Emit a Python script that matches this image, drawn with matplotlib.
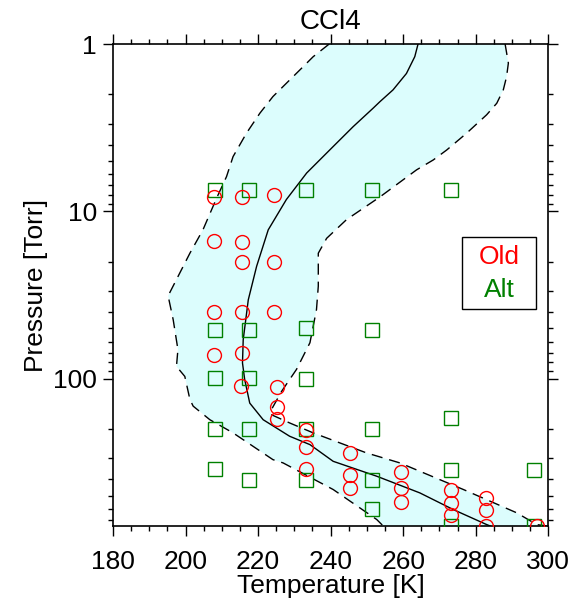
import numpy as np
import matplotlib
matplotlib.use("Agg")
import matplotlib.pyplot as plt
from matplotlib.patches import Rectangle
from matplotlib.ticker import FixedLocator, NullFormatter

plt.rcParams['font.family'] = ['Liberation Sans', 'DejaVu Sans']

#--------------------------------------------------Data------------------------------------------------#

# "Old" measurements (red circles): temperature [K], pressure [Torr]
Old_T = [207.9, 207.9, 207.9, 207.9,
         215.7, 215.7, 215.7, 215.7, 215.7, 215.2,
         224.5, 224.5, 224.5,
         225.3, 225.3, 225.3,
         233.1, 233.1, 233.1,
         245.3, 245.3, 245.3,
         259.4, 259.4, 259.4,
         273.3, 273.3, 273.3,
         282.8, 282.8, 282.8,
         296.8]
Old_P = [8.2, 15.1, 40, 72,
         8.2, 15.3, 20.2, 40, 70, 110,
         8.0, 20.2, 40,
         112, 147, 174,
         202, 258, 346,
         278, 379, 448,
         359, 450, 550,
         466, 553, 655,
         519, 606, 760,
         760]

# "Alt" measurements (green squares)
Alt_T = [208.0, 208.0, 208.0, 208.0, 208.0,
         217.4, 217.4, 217.4, 217.4, 217.4,
         233.2, 233.2, 233.2, 233.2, 233.2,
         251.4, 251.4, 251.4, 251.4, 251.4,
         273.2, 273.2, 273.2, 273.2,
         296.2, 296.2]
Alt_P = [7.5, 51, 99, 200, 346,
         7.5, 51, 99, 200, 401,
         7.5, 50, 100, 200, 401,
         7.5, 51, 200, 401, 600,
         7.5, 173, 351, 760,
         351, 760]

# Mean curve (solid)
Mean_T = [264.1, 263.2, 260.9, 257.2, 253.6, 251.7, 246.2, 240.7, 233.4, 227.8,
          222.8, 219.6, 217.3, 215.9, 215.7, 216.3, 217.7, 221.4, 228.7, 234.3,
          240.7, 252.7, 264.6, 273.8, 283.0, 284.0]
Mean_P = [1.0, 1.19, 1.50, 1.88, 2.21, 2.42, 3.12, 4.1, 5.9, 8.5,
          12.9, 21.3, 33.8, 58.5, 80.6, 101, 140, 176, 221, 248,
          312, 383, 482, 606, 745, 760]

# Cold bound (left dashed)
Low_T = [239.6, 235.2, 231.5, 224.1, 220.5, 216.8, 213.1, 211.3, 208.5, 204.8,
         201.2, 195.2, 196.6, 197.9, 197.5, 199.8, 201.2, 202.1, 206.7, 213.1,
         224.1, 226.9, 240.7, 252.7, 254.5]
Low_P = [1.0, 1.19, 1.43, 2.06, 2.59, 3.41, 4.71, 6.2, 8.4, 12.9,
         17.8, 32, 44.5, 67, 84.5, 97, 133, 146, 176, 211,
         305, 319, 460, 695, 760]

# Warm bound (right dashed)
High_T = [288.1, 289.0, 288.5, 287.6, 285.8, 283.0, 277.5, 272.0, 268.3, 263.7,
          253.6, 244.4, 238.9, 236.6, 236.6, 236.1, 234.3, 230.6, 226.5, 223.4,
          223.6, 228.7, 235.2, 249.9, 259.1, 276.6, 291.3, 296.8, 299.6]
High_P = [1.0, 1.30, 1.57, 1.88, 2.26, 2.65, 3.41, 4.3, 4.93, 5.65,
          8.2, 11.2, 14.5, 17.8, 28, 38.7, 61, 88, 119, 157,
          164, 184, 211, 278, 319, 460, 634, 745, 760]

#--------------------------------------------------Plot------------------------------------------------#

fig = plt.figure(figsize=(5.8, 6.03), dpi=100)
ax = fig.add_axes([0.1948, 0.1277, 0.7505, 0.7993])

# shaded band between the bounds
band_T = Low_T + High_T[::-1]
band_P = Low_P + High_P[::-1]
ax.fill(band_T, band_P, color='#dcfdfd', lw=0, zorder=1)

ax.plot(Low_T, Low_P, color='black', lw=1.0, ls=(0, (8, 5)), zorder=2)
ax.plot(High_T, High_P, color='black', lw=1.0, ls=(0, (8, 5)), zorder=2)
ax.plot(Mean_T, Mean_P, color='black', lw=1.0, zorder=2)

ax.plot(Alt_T, Alt_P, 's', mfc='none', mec='#008000', ms=10, mew=1.0, ls='none', zorder=3)
ax.plot(Old_T, Old_P, 'o', mfc='none', mec='#ff0000', ms=10, mew=1.0, ls='none', zorder=4)

ax.set_yscale('log')
ax.set_xlim(180, 300)
ax.set_ylim(760, 1)

ax.xaxis.set_major_locator(FixedLocator([180, 200, 220, 240, 260, 280, 300]))
ax.xaxis.set_minor_locator(FixedLocator(np.arange(180, 301, 5)))
ax.yaxis.set_major_locator(FixedLocator([1, 10, 100]))
ax.yaxis.set_minor_locator(FixedLocator([2, 3, 4, 5, 6, 7, 8, 9,
                                         20, 30, 40, 50, 60, 70, 80, 90,
                                         200, 300, 400, 500, 600, 700]))
ax.yaxis.set_minor_formatter(NullFormatter())
ax.set_yticklabels(['1', '10', '100'])

ax.tick_params(which='both', direction='out', top=True, right=True, width=1.0, labelsize=19)
ax.tick_params(which='major', length=7.5)
ax.tick_params(which='minor', length=3.8)
ax.tick_params(axis='x', which='major', pad=10)
ax.tick_params(axis='y', which='major', pad=4)
for s in ax.spines.values():
    s.set_linewidth(1.2)

ax.set_title('CCl4', fontsize=20, pad=11)
ax.set_xlabel('Temperature [K]', fontsize=19, labelpad=0)
ax.set_ylabel('Pressure [Torr]', fontsize=19, labelpad=4)

# legend box
ax.add_patch(Rectangle((0.802, 0.450), 0.170, 0.150, transform=ax.transAxes,
                       facecolor='white', edgecolor='black', lw=1.0, zorder=5))
ax.text(0.887, 0.558, 'Old', color='#ff0000', fontsize=19, ha='center', va='center',
        transform=ax.transAxes, zorder=6)
ax.text(0.887, 0.490, 'Alt', color='#008000', fontsize=19, ha='center', va='center',
        transform=ax.transAxes, zorder=6)

plt.savefig('out.png', dpi=100)
